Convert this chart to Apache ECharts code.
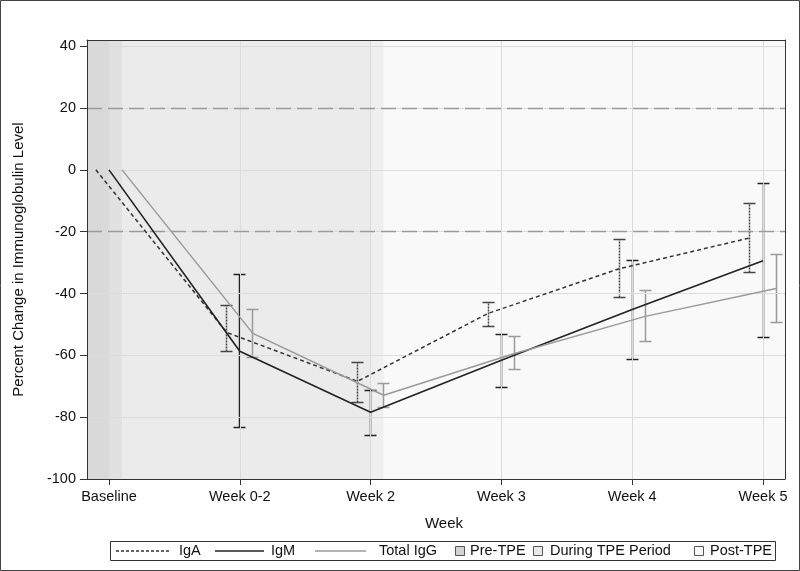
<!DOCTYPE html>
<html>
<head>
<meta charset="utf-8">
<script src="https://cdn.jsdelivr.net/npm/echarts@6/dist/echarts.min.js"></script>
<style>
html,body{margin:0;padding:0;background:#fff;}
#chart{width:800px;height:571px;}
</style>
</head>
<body>
<div id="chart"></div>
<script>
// ---- data ----
var categories = ['Baseline', 'Week 0-2', 'Week 2', 'Week 3', 'Week 4', 'Week 5'];
var yTicks = [-100, -80, -60, -40, -20, 0, 20, 40];
var refLines = [20, -20];

var igA      = [0, -52.6, -68.4, -46.4, -32.0, -22.0];
var igALow   = [null, -58.7, -75.2, -50.6, -41.3, -33.2];
var igAHigh  = [null, -43.9, -62.3, -42.9, -22.6, -11.0];

var igM      = [0, -58.7, -78.4, -61.6, -45.2, -29.4];
var igMLow   = [null, -83.2, -85.8, -70.3, -61.3, -54.2];
var igMHigh  = [null, -33.9, -71.3, -53.2, -29.2, -4.4];

var igG      = [0, -52.9, -72.9, -59.4, -47.4, -38.4];
var igGLow   = [null, -60.6, -76.8, -64.5, -55.5, -49.4];
var igGHigh  = [null, -45.2, -69.0, -53.9, -39.0, -27.4];

// period boundaries (in category units)
var preEnd = 0.1;
var duringEnd = 2.1;

// ---- styles / layout ----
var X_MIN = -0.168, X_MAX = 5.168, Y_MIN = -100, Y_MAX = 42;
var offA = -0.1, offM = 0, offG = 0.1;
var FONT = '"Liberation Sans", Arial, sans-serif';

function pts(vals, off) {
  return vals.map(function (v, i) { return [i + off, v]; });
}
function bars(lo, hi, off) {
  var out = [];
  for (var i = 0; i < lo.length; i++) {
    if (lo[i] != null && hi[i] != null) out.push([i + off, lo[i], hi[i]]);
  }
  return out;
}
function snap(v) { return Math.round(v - 0.5) + 0.5; }
function errRender(color, dash) {
  return function (params, api) {
    var x = api.value(0);
    var pLo = api.coord([x, api.value(1)]);
    var pHi = api.coord([x, api.value(2)]);
    var cx = snap(pLo[0]), yLo = snap(pLo[1]), yHi = snap(pHi[1]);
    var w = 6;
    var st = { stroke: color, lineWidth: 1.5 };
    var vst = { stroke: color, lineWidth: 1.5 };
    if (dash) vst.lineDash = dash;
    return {
      type: 'group',
      children: [
        { type: 'line', shape: { x1: cx, y1: yLo, x2: cx, y2: yHi }, style: vst },
        { type: 'line', shape: { x1: cx - w, y1: yLo, x2: cx + w, y2: yLo }, style: st },
        { type: 'line', shape: { x1: cx - w, y1: yHi, x2: cx + w, y2: yHi }, style: st }
      ]
    };
  };
}

var chart = echarts.init(document.getElementById('chart'), null, { renderer: 'canvas' });

var xIdx = categories.map(function (c, i) { return i; });

var option = {
  backgroundColor: '#ffffff',
  animation: false,
  textStyle: { fontFamily: FONT },
  grid: { left: 87, right: 15, top: 40, bottom: 92, containLabel: false },
  xAxis: [{
    type: 'value', min: X_MIN, max: X_MAX, position: 'bottom', z: 10,
    name: 'Week', nameLocation: 'middle', nameGap: 37,
    nameTextStyle: { fontSize: 15, color: '#111', fontFamily: FONT, padding: [0, 0, 0, 16] },
    axisLine: { show: true, onZero: false, lineStyle: { color: '#333', width: 1 } },
    axisTick: { show: true, length: 6, customValues: xIdx, lineStyle: { color: '#333' } },
    axisLabel: { show: true, customValues: xIdx, margin: 10, fontSize: 14.5, color: '#111', fontFamily: FONT,
      formatter: function (v) { return categories[Math.round(v)]; } },
    splitLine: { show: false }
  }, {
    type: 'value', min: X_MIN, max: X_MAX, position: 'top', z: 10,
    axisLine: { show: true, onZero: false, lineStyle: { color: '#333', width: 1 } },
    axisTick: { show: false }, axisLabel: { show: false }, splitLine: { show: false }
  }],
  yAxis: [{
    type: 'value', min: Y_MIN, max: Y_MAX, position: 'left', z: 10,
    name: 'Percent Change in Immunoglobulin Level', nameLocation: 'middle', nameGap: 61,
    nameTextStyle: { fontSize: 15, color: '#111', fontFamily: FONT },
    axisLine: { show: true, onZero: false, lineStyle: { color: '#333', width: 1 } },
    axisTick: { show: true, length: 7, customValues: yTicks, lineStyle: { color: '#333' } },
    axisLabel: { show: true, customValues: yTicks, margin: 11, fontSize: 14.5, color: '#111', fontFamily: FONT },
    splitLine: { show: false }
  }, {
    type: 'value', min: Y_MIN, max: Y_MAX, position: 'right', z: 10,
    axisLine: { show: true, onZero: false, lineStyle: { color: '#333', width: 1 } },
    axisTick: { show: false }, axisLabel: { show: false }, splitLine: { show: false }
  }],
  series: [
    {
      name: 'bands', type: 'line', data: [], z: 1, silent: true,
      markArea: {
        silent: true,
        label: { show: false },
        data: [
          [{ xAxis: X_MIN, itemStyle: { color: '#d9d9d9' } }, { xAxis: 0 }],
          [{ xAxis: 0, itemStyle: { color: '#e1e1e1' } }, { xAxis: preEnd }],
          [{ xAxis: preEnd, itemStyle: { color: '#ebebeb' } }, { xAxis: duringEnd - 0.1 }],
          [{ xAxis: duringEnd - 0.1, itemStyle: { color: '#efefef' } }, { xAxis: duringEnd }],
          [{ xAxis: duringEnd, itemStyle: { color: '#f9f9f9' } }, { xAxis: X_MAX }]
        ]
      }
    },
    {
      name: 'gridlines', type: 'line', data: [], z: 2, silent: true,
      markLine: {
        silent: true, symbol: ['none', 'none'], label: { show: false },
        lineStyle: { color: '#dcdcdc', width: 1, type: 'solid' },
        data: xIdx.map(function (i) { return { xAxis: i }; })
          .concat(yTicks.filter(function (v) { return v > Y_MIN; }).map(function (v) { return { yAxis: v }; }))
      }
    },
    {
      name: 'reflines', type: 'line', data: [], z: 3, silent: true,
      markLine: {
        silent: true, symbol: ['none', 'none'], label: { show: false },
        lineStyle: { color: '#9a9a9a', width: 1.4, type: [15, 6] },
        data: refLines.map(function (v) { return { yAxis: v }; })
      }
    },
    { name: 'IgA err', type: 'custom', z: 4, renderItem: errRender('#444', [2, 1]), data: bars(igALow, igAHigh, offA), silent: true },
    { name: 'IgM err', type: 'custom', z: 4, renderItem: errRender('#222'), data: bars(igMLow, igMHigh, offM), silent: true },
    { name: 'Total IgG err', type: 'custom', z: 4, renderItem: errRender('#9a9a9a'), data: bars(igGLow, igGHigh, offG), silent: true },
    { name: 'IgA', type: 'line', z: 5, showSymbol: false, data: pts(igA, offA),
      lineStyle: { color: '#333', width: 1.5, type: [4, 3] } },
    { name: 'IgM', type: 'line', z: 5, showSymbol: false, data: pts(igM, offM),
      lineStyle: { color: '#222', width: 1.6 } },
    { name: 'Total IgG', type: 'line', z: 5, showSymbol: false, data: pts(igG, offG),
      lineStyle: { color: '#9a9a9a', width: 1.5 } }
  ],
  graphic: [
    { type: 'rect', z: 100, silent: true, shape: { x: 0.5, y: 0.5, width: 799, height: 570 },
      style: { fill: null, stroke: '#444', lineWidth: 1 } },
    { type: 'group', z: 100, silent: true, children: [
      { type: 'rect', shape: { x: 110.5, y: 541.5, width: 665, height: 19 }, style: { fill: '#fff', stroke: '#333', lineWidth: 1 } },
      { type: 'line', shape: { x1: 116, y1: 551, x2: 169, y2: 551 }, style: { stroke: '#333', lineWidth: 1.3, lineDash: [3, 2] } },
      { type: 'text', style: { x: 179, y: 551, text: 'IgA', font: '14.5px ' + FONT, fill: '#111', verticalAlign: 'middle' } },
      { type: 'line', shape: { x1: 215, y1: 551, x2: 264, y2: 551 }, style: { stroke: '#222', lineWidth: 1.5 } },
      { type: 'text', style: { x: 271, y: 551, text: 'IgM', font: '14.5px ' + FONT, fill: '#111', verticalAlign: 'middle' } },
      { type: 'line', shape: { x1: 315, y1: 551, x2: 366, y2: 551 }, style: { stroke: '#9a9a9a', lineWidth: 1.5 } },
      { type: 'text', style: { x: 379, y: 551, text: 'Total IgG', font: '14.5px ' + FONT, fill: '#111', verticalAlign: 'middle' } },
      { type: 'rect', shape: { x: 455.5, y: 546.5, width: 9, height: 9 }, style: { fill: '#d3d3d3', stroke: '#555', lineWidth: 1 } },
      { type: 'text', style: { x: 470, y: 551, text: 'Pre-TPE', font: '14.5px ' + FONT, fill: '#111', verticalAlign: 'middle' } },
      { type: 'rect', shape: { x: 533.5, y: 546.5, width: 9, height: 9 }, style: { fill: '#e9e9e9', stroke: '#555', lineWidth: 1 } },
      { type: 'text', style: { x: 550, y: 551, text: 'During TPE Period', font: '14.5px ' + FONT, fill: '#111', verticalAlign: 'middle' } },
      { type: 'rect', shape: { x: 694.5, y: 546.5, width: 9, height: 9 }, style: { fill: '#fafafa', stroke: '#555', lineWidth: 1 } },
      { type: 'text', style: { x: 710, y: 551, text: 'Post-TPE', font: '14.5px ' + FONT, fill: '#111', verticalAlign: 'middle' } }
    ]}
  ]
};

chart.setOption(option);
</script>
</body>
</html>
